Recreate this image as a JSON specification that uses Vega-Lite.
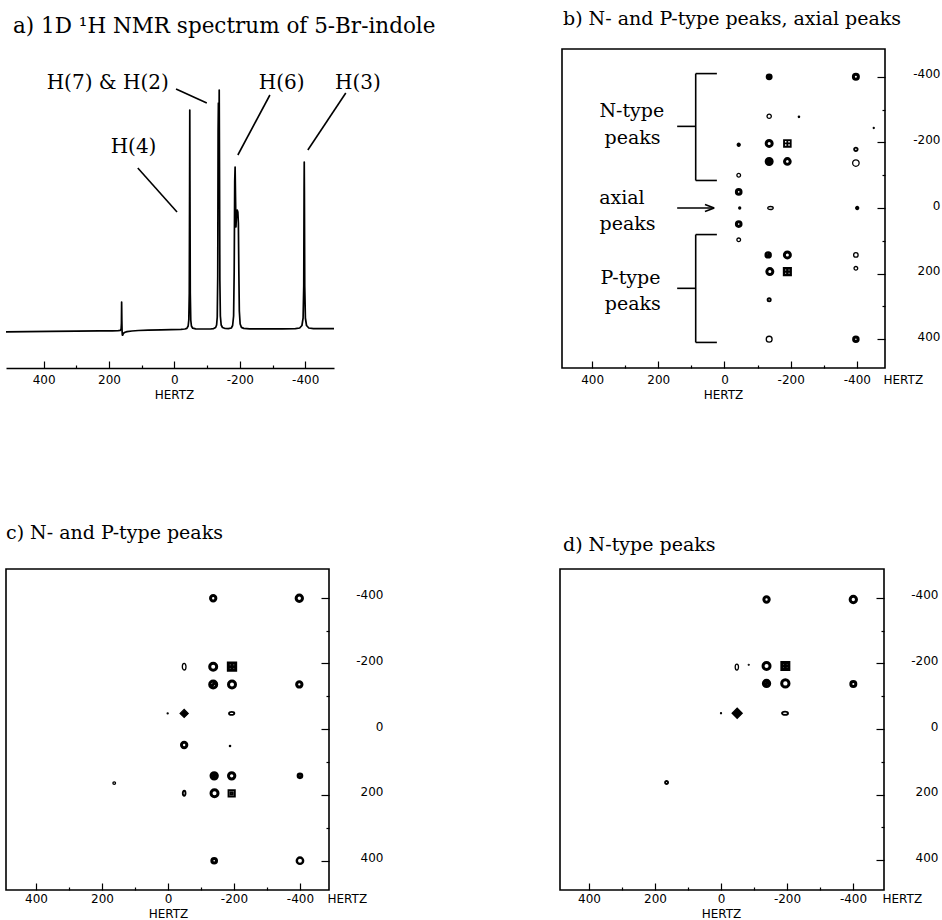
{
  "$schema": "https://vega.github.io/schema/vega-lite/v6.json",
  "padding": {"left": 5, "top": 9, "right": 0, "bottom": 0},
  "background": "white",
  "bounds": "flush",
  "spacing": 520,
  "datasets": {
    "spectrum": [
      {"x": 515, "y": -0.8}, {"x": 450, "y": -0.6}, {"x": 380, "y": -0.3}, {"x": 300, "y": -0.1}, {"x": 230, "y": 0.1},
      {"x": 190, "y": 0.2}, {"x": 172, "y": 0.4}, {"x": 166, "y": 0.6}, {"x": 163, "y": 2}, {"x": 162, "y": 8},
      {"x": 161.4, "y": 29}, {"x": 160.7, "y": 10}, {"x": 160, "y": 0}, {"x": 159.3, "y": -4}, {"x": 158.3, "y": -4.2},
      {"x": 157, "y": -3.2}, {"x": 155, "y": -2}, {"x": 151, "y": -1.2}, {"x": 145, "y": -0.6}, {"x": 130, "y": 0},
      {"x": 110, "y": 0.5}, {"x": 80, "y": 0.9}, {"x": 40, "y": 1.2}, {"x": 10, "y": 1.4}, {"x": -20, "y": 1.6},
      {"x": -32, "y": 2}, {"x": -38, "y": 2.6}, {"x": -42, "y": 5}, {"x": -44, "y": 11}, {"x": -45.5, "y": 38},
      {"x": -46.5, "y": 150}, {"x": -47, "y": 221}, {"x": -47.5, "y": 150}, {"x": -48.5, "y": 38}, {"x": -50, "y": 11},
      {"x": -52, "y": 5}, {"x": -56, "y": 2.8}, {"x": -65, "y": 2.2}, {"x": -90, "y": 2}, {"x": -110, "y": 2},
      {"x": -120, "y": 2.4}, {"x": -126, "y": 3.5}, {"x": -129, "y": 6}, {"x": -131, "y": 14}, {"x": -132.5, "y": 55},
      {"x": -133.6, "y": 200}, {"x": -134.5, "y": 228}, {"x": -135.5, "y": 130}, {"x": -136.2, "y": 185}, {"x": -137, "y": 241},
      {"x": -138, "y": 150}, {"x": -139, "y": 50}, {"x": -140.5, "y": 15}, {"x": -143, "y": 6}, {"x": -147, "y": 3.5},
      {"x": -155, "y": 2.5}, {"x": -165, "y": 2.3}, {"x": -174, "y": 3}, {"x": -178, "y": 5.5}, {"x": -181, "y": 15},
      {"x": -182.8, "y": 60}, {"x": -184.4, "y": 150}, {"x": -185.6, "y": 164}, {"x": -186.8, "y": 135}, {"x": -188.2, "y": 104},
      {"x": -190, "y": 117}, {"x": -192, "y": 121}, {"x": -194, "y": 119}, {"x": -195.6, "y": 108}, {"x": -197, "y": 60},
      {"x": -198.5, "y": 20}, {"x": -201, "y": 7}, {"x": -205, "y": 3.6}, {"x": -212, "y": 2.6}, {"x": -230, "y": 2.2},
      {"x": -280, "y": 2.1}, {"x": -330, "y": 2.2}, {"x": -370, "y": 2.3}, {"x": -383, "y": 3}, {"x": -390, "y": 5.5},
      {"x": -393.5, "y": 13}, {"x": -395.5, "y": 45}, {"x": -396.5, "y": 140}, {"x": -397, "y": 169}, {"x": -397.5, "y": 140},
      {"x": -398.5, "y": 45}, {"x": -400.5, "y": 13}, {"x": -404, "y": 5.5}, {"x": -411, "y": 3}, {"x": -425, "y": 2.4},
      {"x": -460, "y": 2.3}, {"x": -488, "y": 2.3}
    ],
    "peaks": [
      {"panel": "b", "x": -135, "y": -400, "type": "slash", "extent": 13.5, "levels": 3},
      {"panel": "b", "x": -397, "y": -400, "type": "ring", "extent": 15, "levels": 4},
      {"panel": "b", "x": -135, "y": -280, "type": "ring", "extent": 13, "levels": 1},
      {"panel": "b", "x": -225, "y": -278, "type": "dot", "extent": 4, "levels": 1},
      {"panel": "b", "x": -451, "y": -244, "type": "dot", "extent": 3, "levels": 1},
      {"panel": "b", "x": -43, "y": -193, "type": "dot", "extent": 9, "levels": 1},
      {"panel": "b", "x": -135, "y": -197, "type": "ring", "extent": 18, "levels": 4},
      {"panel": "b", "x": -190, "y": -197, "type": "cross", "extent": 20, "levels": 2},
      {"panel": "b", "x": -397, "y": -179, "type": "ring", "extent": 10.5, "levels": 2},
      {"panel": "b", "x": -135, "y": -142, "type": "slash", "extent": 18, "levels": 4},
      {"panel": "b", "x": -190, "y": -142, "type": "ring", "extent": 17, "levels": 4},
      {"panel": "b", "x": -397, "y": -137, "type": "ring", "extent": 19.5, "levels": 1},
      {"panel": "b", "x": -43, "y": -100, "type": "ring", "extent": 11, "levels": 1},
      {"panel": "b", "x": -43, "y": -49, "type": "ring", "extent": 14, "levels": 4},
      {"panel": "b", "x": -46, "y": 0, "type": "dot", "extent": 6, "levels": 1},
      {"panel": "b", "x": -139, "y": 0, "type": "ellipse", "extent": 16.5, "levels": 1},
      {"panel": "b", "x": -401, "y": 0, "type": "dot", "extent": 9, "levels": 1},
      {"panel": "b", "x": -43, "y": 49, "type": "ring", "extent": 14, "levels": 4},
      {"panel": "b", "x": -43, "y": 97, "type": "ring", "extent": 11, "levels": 1},
      {"panel": "b", "x": -132, "y": 143, "type": "slash", "extent": 15, "levels": 3},
      {"panel": "b", "x": -190, "y": 143, "type": "ring", "extent": 18, "levels": 4},
      {"panel": "b", "x": -397, "y": 143, "type": "ring", "extent": 13.5, "levels": 1},
      {"panel": "b", "x": -137, "y": 194, "type": "ring", "extent": 18, "levels": 4},
      {"panel": "b", "x": -190, "y": 194, "type": "cross", "extent": 20, "levels": 3},
      {"panel": "b", "x": -397, "y": 184, "type": "ring", "extent": 11, "levels": 1},
      {"panel": "b", "x": -135, "y": 280, "type": "ring", "extent": 9.5, "levels": 2},
      {"panel": "b", "x": -135, "y": 400, "type": "ring", "extent": 17.5, "levels": 1},
      {"panel": "b", "x": -397, "y": 400, "type": "ring", "extent": 13.5, "levels": 4},
      {"panel": "c", "x": -137, "y": -398, "type": "ring", "extent": 16, "levels": 4},
      {"panel": "c", "x": -398, "y": -398, "type": "ring", "extent": 19, "levels": 4},
      {"panel": "c", "x": -49, "y": -190, "type": "oval", "extent": 20, "levels": 1},
      {"panel": "c", "x": -137, "y": -190, "type": "ring", "extent": 21, "levels": 4},
      {"panel": "c", "x": -194, "y": -190, "type": "cross", "extent": 22, "levels": 4},
      {"panel": "c", "x": -137, "y": -136, "type": "slash", "extent": 21, "levels": 4},
      {"panel": "c", "x": -194, "y": -136, "type": "ring", "extent": 21, "levels": 4},
      {"panel": "c", "x": -398, "y": -136, "type": "ring", "extent": 16, "levels": 4},
      {"panel": "c", "x": 1, "y": -48, "type": "dot", "extent": 3, "levels": 1},
      {"panel": "c", "x": -49, "y": -48, "type": "diamond", "extent": 24, "levels": 1},
      {"panel": "c", "x": -193, "y": -48, "type": "ellipse", "extent": 16, "levels": 2},
      {"panel": "c", "x": -49, "y": 48, "type": "ring", "extent": 16, "levels": 4},
      {"panel": "c", "x": -188, "y": 51, "type": "dot", "extent": 4, "levels": 1},
      {"panel": "c", "x": -140, "y": 142, "type": "slash", "extent": 19, "levels": 4},
      {"panel": "c", "x": -193, "y": 142, "type": "ring", "extent": 19, "levels": 4},
      {"panel": "c", "x": -400, "y": 142, "type": "ring", "extent": 11, "levels": 4},
      {"panel": "c", "x": 163, "y": 164, "type": "ring", "extent": 8, "levels": 1},
      {"panel": "c", "x": -49, "y": 195, "type": "oval", "extent": 15, "levels": 2},
      {"panel": "c", "x": -141, "y": 195, "type": "ring", "extent": 21, "levels": 4},
      {"panel": "c", "x": -193, "y": 195, "type": "box", "extent": 19, "levels": 2},
      {"panel": "c", "x": -140, "y": 400, "type": "ring", "extent": 14, "levels": 4},
      {"panel": "c", "x": -400, "y": 400, "type": "ring", "extent": 19, "levels": 3},
      {"panel": "d", "x": -138, "y": -395, "type": "ring", "extent": 16, "levels": 4},
      {"panel": "d", "x": -401, "y": -395, "type": "ring", "extent": 19, "levels": 4},
      {"panel": "d", "x": -48, "y": -189, "type": "oval", "extent": 18, "levels": 1},
      {"panel": "d", "x": -84, "y": -196, "type": "dot", "extent": 2.5, "levels": 1},
      {"panel": "d", "x": -138, "y": -192, "type": "ring", "extent": 21, "levels": 4},
      {"panel": "d", "x": -195, "y": -192, "type": "cross", "extent": 21, "levels": 4},
      {"panel": "d", "x": -138, "y": -139, "type": "slash", "extent": 19, "levels": 4},
      {"panel": "d", "x": -195, "y": -139, "type": "ring", "extent": 22, "levels": 4},
      {"panel": "d", "x": -401, "y": -137, "type": "ring", "extent": 15, "levels": 4},
      {"panel": "d", "x": 0, "y": -48, "type": "dot", "extent": 3, "levels": 1},
      {"panel": "d", "x": -49, "y": -48, "type": "diamond", "extent": 30, "levels": 1},
      {"panel": "d", "x": -194, "y": -48, "type": "ellipse", "extent": 18, "levels": 2},
      {"panel": "d", "x": 165, "y": 163, "type": "ring", "extent": 9, "levels": 2}
    ],
    "lines": [
      {"panel": "a", "x": 112, "y": 163, "x2": -8, "y2": 119},
      {"panel": "a", "x": -5, "y": 242, "x2": -99, "y2": 228},
      {"panel": "a", "x": -292, "y": 236, "x2": -194, "y2": 176},
      {"panel": "a", "x": -524, "y": 238, "x2": -408, "y2": 181},
      {"panel": "b", "x": 87, "y": -410, "x2": 87, "y2": -84},
      {"panel": "b", "x": 87, "y": -410, "x2": 23, "y2": -410},
      {"panel": "b", "x": 87, "y": -84, "x2": 23, "y2": -84},
      {"panel": "b", "x": 143, "y": -249, "x2": 87, "y2": -249},
      {"panel": "b", "x": 87, "y": 81, "x2": 87, "y2": 410},
      {"panel": "b", "x": 87, "y": 81, "x2": 23, "y2": 81},
      {"panel": "b", "x": 87, "y": 410, "x2": 23, "y2": 410},
      {"panel": "b", "x": 143, "y": 245, "x2": 87, "y2": 245},
      {"panel": "b", "x": 143, "y": 0, "x2": 33, "y2": 0},
      {"panel": "b", "x": 59, "y": -11, "x2": 31, "y2": 0},
      {"panel": "b", "x": 31, "y": 0, "x2": 59, "y2": 11}
    ],
    "labels": [
      {"panel": "a", "x": 125, "y": 178, "text": "H(4)"},
      {"panel": "a", "x": 204, "y": 242, "text": "H(7) & H(2)"},
      {"panel": "a", "x": -328, "y": 242, "text": "H(6)"},
      {"panel": "a", "x": -561, "y": 242, "text": "H(3)"},
      {"panel": "b", "x": 280, "y": -277, "text": "N-type"},
      {"panel": "b", "x": 278, "y": -196, "text": "peaks"},
      {"panel": "b", "x": 310, "y": -13, "text": "axial"},
      {"panel": "b", "x": 293, "y": 68, "text": "peaks"},
      {"panel": "b", "x": 284, "y": 231, "text": "P-type"},
      {"panel": "b", "x": 277, "y": 312, "text": "peaks"}
    ]
  },
  "vconcat": [
    {
      "bounds": "flush",
      "spacing": 228,
      "hconcat": [
        {
          "width": 328,
          "height": 319,
          "view": {"stroke": null},
          "title": {"text": "a) 1D ¹H NMR spectrum of 5-Br-indole", "fontSize": 21.5, "offset": 12, "dx": 7},
          "encoding": {
            "x": {"field": "x", "type": "quantitative", "scale": {"domain": [515, -488], "nice": false, "zero": false},
              "axis": {"values": [-400, -300, -200, -100, 0, 100, 200, 300, 400], "domain": true, "domainColor": "black", "domainWidth": 1.5,
                "tickSize": {"condition": {"test": "datum.value % 200 == 0", "value": -7}, "value": -3}, "tickWidth": 1.2,
                "labelPadding": 22, "labelBaseline": "alphabetic",
                "labelExpr": "datum.value % 200 == 0 ? (datum.value < 0 ? '-' + (-datum.value) : '' + datum.value) : ''",
                "title": "HERTZ", "titleX": 168, "titleY": 30, "titleBaseline": "alphabetic", "titleAlign": "center"}},
            "y": {"field": "y", "type": "quantitative", "scale": {"domain": [-37, 282], "nice": false, "zero": false}, "axis": null}
          },
          "layer": [
            {"data": {"name": "spectrum"}, "mark": {"type": "line", "color": "black", "strokeWidth": 1.7, "strokeJoin": "round"}},
            {"data": {"name": "lines"}, "transform": [{"filter": "datum.panel == 'a'"}],
              "mark": {"type": "rule", "color": "black", "strokeWidth": 1.6},
              "encoding": {"x2": {"field": "x2"}, "y2": {"field": "y2"}}},
            {"data": {"name": "labels"}, "transform": [{"filter": "datum.panel == 'a'"}],
              "mark": {"type": "text", "font": "DejaVu Serif", "fontSize": 20, "baseline": "alphabetic", "align": "center", "color": "black"},
              "encoding": {"text": {"field": "text"}}}
          ]
        },
        {
          "width": 323,
          "height": 319,
          "title": {"text": "b) N- and P-type peaks,  axial peaks", "offset": 20, "dx": 1},
          "encoding": {
            "x": {"field": "x", "type": "quantitative", "scale": {"domain": [491, -485], "nice": false, "zero": false},
              "axis": {"values": [-400, -300, -200, -100, 0, 100, 200, 300, 400], "domain": false,
                "tickSize": {"condition": {"test": "datum.value % 200 == 0", "value": -7}, "value": -3}, "tickWidth": 1.2,
                "labelPadding": 22, "labelBaseline": "alphabetic",
                "labelExpr": "datum.value % 200 == 0 ? (datum.value < 0 ? '-' + (-datum.value) : '' + datum.value) : ''",
                "title": "HERTZ", "titleX": 161, "titleY": 30, "titleBaseline": "alphabetic", "titleAlign": "center"}},
            "y": {"field": "y", "type": "quantitative", "scale": {"domain": [488, -485], "nice": false, "zero": false},
              "axis": {"orient": "right", "values": [-400, -300, -200, -100, 0, 100, 200, 300, 400], "domain": false,
                "tickSize": {"condition": {"test": "datum.value % 200 == 0", "value": -8}, "value": -3}, "tickWidth": 1.2,
                "labelPadding": 63, "labelAlign": "right", "labelBaseline": "middle", "labelOffset": -3,
                "labelExpr": "datum.value % 200 == 0 ? (datum.value < 0 ? '-' + (-datum.value) : '' + datum.value) : ''",
                "title": "HERTZ", "titleAngle": 0, "titleAlign": "left", "titleBaseline": "alphabetic", "titleX": -2, "titleY": 334}}
          },
          "layer": [
            {"data": {"name": "peaks"}, "transform": [{"filter": "datum.panel == 'b'"}],
              "mark": {"type": "point", "filled": true, "stroke": "black", "opacity": 1},
              "encoding": {
                "shape": {"field": "type", "type": "nominal", "legend": null, "scale": {"domain": ["ring", "dot", "slash", "cross", "box", "diamond", "ellipse", "oval"], "range": ["circle", "circle", "M-1,0A1,1,0,1,0,1,0A1,1,0,1,0,-1,0ZM-0.65,0.65L0.65,-0.65", "M-1,-1H1V1H-1ZM-1,0H1M0,-1V1", "M-1,-1H1V1H-1ZM-0.35,-0.35H0.35V0.35H-0.35Z", "diamond", "M-1,0A1,0.55,0,1,0,1,0A1,0.55,0,1,0,-1,0Z", "M0,-1A0.55,1,0,1,0,0,1A0.55,1,0,1,0,0,-1Z"]}},
                "fill": {"field": "type", "type": "nominal", "legend": null, "scale": {"domain": ["ring", "dot", "slash", "cross", "box", "diamond", "ellipse", "oval"], "range": ["white", "black", "white", "white", "white", "black", "white", "white"]}},
                "size": {"field": "extent", "type": "quantitative", "legend": null, "scale": {"type": "pow", "exponent": 2, "domain": [0, 30], "range": [0, 100]}},
                "strokeWidth": {"field": "levels", "type": "quantitative", "legend": null, "scale": {"domain": [1, 4], "range": [1.3, 3]}}
              }},
            {"data": {"name": "lines"}, "transform": [{"filter": "datum.panel == 'b'"}],
              "mark": {"type": "rule", "color": "black", "strokeWidth": 1.6},
              "encoding": {"x2": {"field": "x2"}, "y2": {"field": "y2"}}},
            {"data": {"name": "labels"}, "transform": [{"filter": "datum.panel == 'b'"}],
              "mark": {"type": "text", "font": "DejaVu Serif", "fontSize": 19, "baseline": "alphabetic", "align": "center", "color": "black"},
              "encoding": {"text": {"field": "text"}}}
          ]
        }
      ]
    },
    {
      "bounds": "flush",
      "spacing": 231,
      "hconcat": [
        {
          "width": 323,
          "height": 321,
          "title": {"text": "c) N- and P-type peaks", "offset": 26, "dx": 0},
          "encoding": {
            "x": {"field": "x", "type": "quantitative", "scale": {"domain": [491, -488], "nice": false, "zero": false},
              "axis": {"values": [-400, -300, -200, -100, 0, 100, 200, 300, 400], "domain": false,
                "tickSize": {"condition": {"test": "datum.value % 200 == 0", "value": -7}, "value": -3}, "tickWidth": 1.2,
                "labelPadding": 19, "labelBaseline": "alphabetic",
                "labelExpr": "datum.value % 200 == 0 ? (datum.value < 0 ? '-' + (-datum.value) : '' + datum.value) : ''",
                "title": "HERTZ", "titleX": 162, "titleY": 27.5, "titleBaseline": "alphabetic", "titleAlign": "center"}},
            "y": {"field": "y", "type": "quantitative", "scale": {"domain": [489, -487], "nice": false, "zero": false},
              "axis": {"orient": "right", "values": [-400, -300, -200, -100, 0, 100, 200, 300, 400], "domain": false,
                "tickSize": {"condition": {"test": "datum.value % 200 == 0", "value": -8}, "value": -3}, "tickWidth": 1.2,
                "labelPadding": 62, "labelAlign": "right", "labelBaseline": "middle", "labelOffset": -3,
                "labelExpr": "datum.value % 200 == 0 ? (datum.value < 0 ? '-' + (-datum.value) : '' + datum.value) : ''",
                "title": "HERTZ", "titleAngle": 0, "titleAlign": "left", "titleBaseline": "alphabetic", "titleX": -2, "titleY": 333}}
          },
          "layer": [
            {"data": {"name": "peaks"}, "transform": [{"filter": "datum.panel == 'c'"}],
              "mark": {"type": "point", "filled": true, "stroke": "black", "opacity": 1},
              "encoding": {
                "shape": {"field": "type", "type": "nominal", "legend": null, "scale": {"domain": ["ring", "dot", "slash", "cross", "box", "diamond", "ellipse", "oval"], "range": ["circle", "circle", "M-1,0A1,1,0,1,0,1,0A1,1,0,1,0,-1,0ZM-0.65,0.65L0.65,-0.65", "M-1,-1H1V1H-1ZM-1,0H1M0,-1V1", "M-1,-1H1V1H-1ZM-0.35,-0.35H0.35V0.35H-0.35Z", "diamond", "M-1,0A1,0.55,0,1,0,1,0A1,0.55,0,1,0,-1,0Z", "M0,-1A0.55,1,0,1,0,0,1A0.55,1,0,1,0,0,-1Z"]}},
                "fill": {"field": "type", "type": "nominal", "legend": null, "scale": {"domain": ["ring", "dot", "slash", "cross", "box", "diamond", "ellipse", "oval"], "range": ["white", "black", "white", "white", "white", "black", "white", "white"]}},
                "size": {"field": "extent", "type": "quantitative", "legend": null, "scale": {"type": "pow", "exponent": 2, "domain": [0, 30], "range": [0, 100]}},
                "strokeWidth": {"field": "levels", "type": "quantitative", "legend": null, "scale": {"domain": [1, 4], "range": [1.3, 3]}}
              }}
          ]
        },
        {
          "width": 324,
          "height": 321,
          "title": {"text": "d) N-type peaks", "offset": 14, "dx": 3},
          "encoding": {
            "x": {"field": "x", "type": "quantitative", "scale": {"domain": [488, -494], "nice": false, "zero": false},
              "axis": {"values": [-400, -300, -200, -100, 0, 100, 200, 300, 400], "domain": false,
                "tickSize": {"condition": {"test": "datum.value % 200 == 0", "value": -7}, "value": -3}, "tickWidth": 1.2,
                "labelPadding": 19, "labelBaseline": "alphabetic",
                "labelExpr": "datum.value % 200 == 0 ? (datum.value < 0 ? '-' + (-datum.value) : '' + datum.value) : ''",
                "title": "HERTZ", "titleX": 161, "titleY": 27.5, "titleBaseline": "alphabetic", "titleAlign": "center"}},
            "y": {"field": "y", "type": "quantitative", "scale": {"domain": [491, -488], "nice": false, "zero": false},
              "axis": {"orient": "right", "values": [-400, -300, -200, -100, 0, 100, 200, 300, 400], "domain": false,
                "tickSize": {"condition": {"test": "datum.value % 200 == 0", "value": -8}, "value": -3}, "tickWidth": 1.2,
                "labelPadding": 62, "labelAlign": "right", "labelBaseline": "middle", "labelOffset": -3,
                "labelExpr": "datum.value % 200 == 0 ? (datum.value < 0 ? '-' + (-datum.value) : '' + datum.value) : ''",
                "title": "HERTZ", "titleAngle": 0, "titleAlign": "left", "titleBaseline": "alphabetic", "titleX": -2, "titleY": 333}}
          },
          "layer": [
            {"data": {"name": "peaks"}, "transform": [{"filter": "datum.panel == 'd'"}],
              "mark": {"type": "point", "filled": true, "stroke": "black", "opacity": 1},
              "encoding": {
                "shape": {"field": "type", "type": "nominal", "legend": null, "scale": {"domain": ["ring", "dot", "slash", "cross", "box", "diamond", "ellipse", "oval"], "range": ["circle", "circle", "M-1,0A1,1,0,1,0,1,0A1,1,0,1,0,-1,0ZM-0.65,0.65L0.65,-0.65", "M-1,-1H1V1H-1ZM-1,0H1M0,-1V1", "M-1,-1H1V1H-1ZM-0.35,-0.35H0.35V0.35H-0.35Z", "diamond", "M-1,0A1,0.55,0,1,0,1,0A1,0.55,0,1,0,-1,0Z", "M0,-1A0.55,1,0,1,0,0,1A0.55,1,0,1,0,0,-1Z"]}},
                "fill": {"field": "type", "type": "nominal", "legend": null, "scale": {"domain": ["ring", "dot", "slash", "cross", "box", "diamond", "ellipse", "oval"], "range": ["white", "black", "white", "white", "white", "black", "white", "white"]}},
                "size": {"field": "extent", "type": "quantitative", "legend": null, "scale": {"type": "pow", "exponent": 2, "domain": [0, 30], "range": [0, 100]}},
                "strokeWidth": {"field": "levels", "type": "quantitative", "legend": null, "scale": {"domain": [1, 4], "range": [1.3, 3]}}
              }}
          ]
        }
      ]
    }
  ],
  "config": {
    "view": {"stroke": "black", "strokeWidth": 1.6},
    "axis": {"labelFont": "DejaVu Sans", "labelFontSize": 12, "labelColor": "black", "tickColor": "black",
      "titleFont": "DejaVu Sans", "titleFontSize": 12, "titleFontWeight": "normal", "titleColor": "black",
      "grid": false, "labelFlush": false, "labelOverlap": false},
    "title": {"anchor": "start", "frame": "group", "font": "DejaVu Serif", "fontSize": 19, "fontWeight": "normal", "color": "black", "baseline": "alphabetic"}
  }
}
